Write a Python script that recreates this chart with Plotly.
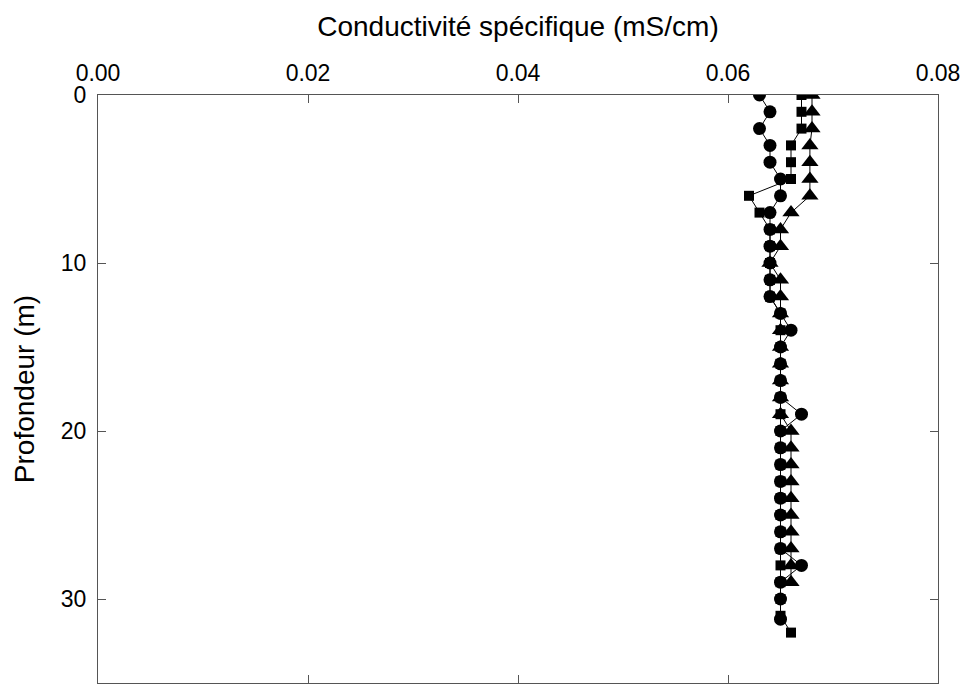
import plotly.graph_objects as go

# Depths (m)
depth_circle = [0, 1, 2, 3, 4, 5, 6, 7, 8, 9, 10, 11, 12, 13, 14, 15, 16, 17, 18, 19,
                20, 21, 22, 23, 24, 25, 26, 27, 28, 29, 30, 31.2]
cond_circle = [0.063, 0.064, 0.063, 0.064, 0.064, 0.065, 0.065, 0.064, 0.064, 0.064,
               0.064, 0.064, 0.064, 0.065, 0.066, 0.065, 0.065, 0.065, 0.065, 0.067,
               0.065, 0.065, 0.065, 0.065, 0.065, 0.065, 0.065, 0.065, 0.067, 0.065,
               0.065, 0.065]

depth_square = list(range(0, 33))
cond_square = [0.067, 0.067, 0.067, 0.066, 0.066, 0.066, 0.062, 0.063, 0.064, 0.064,
               0.064, 0.064, 0.064, 0.065, 0.065, 0.065, 0.065, 0.065, 0.065, 0.065,
               0.065, 0.065, 0.065, 0.065, 0.065, 0.065, 0.065, 0.065, 0.065, 0.065,
               0.065, 0.065, 0.066]

depth_triangle = list(range(0, 30))
cond_triangle = [0.068, 0.068, 0.068, 0.0678, 0.0678, 0.0678, 0.0678, 0.066, 0.065, 0.065,
                 0.064, 0.065, 0.065, 0.065, 0.065, 0.065, 0.065, 0.065, 0.065, 0.065,
                 0.066, 0.066, 0.066, 0.066, 0.066, 0.066, 0.066, 0.066, 0.066, 0.066]

x_ticks = [0.0, 0.02, 0.04, 0.06, 0.08]
y_ticks = [0, 10, 20, 30]

FONT = "Arial, Liberation Sans, sans-serif"
AXIS_COLOR = "#555555"

fig = go.Figure()

fig.add_trace(go.Scatter(
    x=cond_square, y=depth_square, mode="lines+markers",
    line=dict(color="black", width=1),
    marker=dict(symbol="square", size=10, color="black"),
    showlegend=False))

fig.add_trace(go.Scatter(
    x=cond_triangle, y=depth_triangle, mode="lines+markers",
    line=dict(color="black", width=1),
    marker=dict(symbol="triangle-up", size=15, color="black"),
    showlegend=False))

fig.add_trace(go.Scatter(
    x=cond_circle, y=depth_circle, mode="lines+markers",
    line=dict(color="black", width=1),
    marker=dict(symbol="circle", size=13, color="black"),
    showlegend=False))

fig.update_layout(
    width=966, height=684,
    margin=dict(l=98, r=28, t=95, b=1),
    paper_bgcolor="white", plot_bgcolor="white",
    font=dict(family=FONT, color="black"),
    xaxis=dict(
        side="top", range=[0, 0.08], tickvals=x_ticks, tickformat=".2f",
        ticks="inside", ticklen=8, tickcolor=AXIS_COLOR, tickwidth=1,
        showline=True, linecolor=AXIS_COLOR, linewidth=1, mirror="ticks",
        showgrid=False, zeroline=False,
        ticklabelstandoff=4,
        tickfont=dict(size=23, family=FONT, color="black"),
        title=dict(text="Conductivité spécifique (mS/cm)",
                   font=dict(size=28, family=FONT, color="black"), standoff=14),
    ),
    yaxis=dict(
        range=[35, 0], tickvals=y_ticks,
        ticks="inside", ticklen=8, tickcolor=AXIS_COLOR, tickwidth=1,
        showline=True, linecolor=AXIS_COLOR, linewidth=1, mirror="ticks",
        showgrid=False, zeroline=False,
        tickfont=dict(size=23, family=FONT, color="black"),
        ticklabelstandoff=6,
        title=dict(text="Profondeur (m)",
                   font=dict(size=28, family=FONT, color="black"), standoff=18),
    ),
)

fig.write_html("out.html")
